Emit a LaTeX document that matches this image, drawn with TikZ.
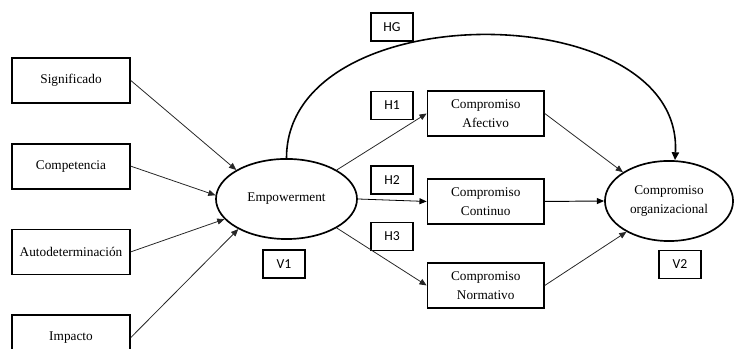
\documentclass[tikz,border=0pt]{standalone}
\usepackage{fontspec}
\setmainfont{Liberation Serif}
\newfontfamily\labelfont{Carlito}
\usetikzlibrary{shapes.geometric, arrows.meta, positioning}

\begin{document}
\begin{tikzpicture}[
    node distance=1.3cm,
    box/.style={rectangle, draw=black, line width=1.6pt, minimum height=1.5cm, minimum width=3.93cm, align=center, font=\fontsize{12.6pt}{17.5pt}\selectfont},
    latent/.style={ellipse, draw=black, line width=1.6pt, minimum height=2.67cm, align=center, inner sep=0pt, font=\fontsize{12.6pt}{17.5pt}\selectfont},
    tag/.style={rectangle, draw=black, line width=1.4pt, minimum height=0.93cm, minimum width=1.4cm, font=\labelfont\fontsize{13pt}{14pt}\selectfont},
    link/.style={-{Triangle[length=2.4mm,width=2mm]}, line width=0.75pt, black!85}
]
    \useasboundingbox (0,0) rectangle (24.5,11.633);

    % Dimensiones de empowerment
    \node[box] (sig) at (2.367,8.95) {Significado};
    \node[box, below=of sig] (comp) {Competencia};
    \node[box, below=of comp] (auto) {Autodeterminación};
    \node[box, below=of auto] (imp) {Impacto};

    % Variables latentes
    \node[latent, minimum width=4.7cm] (emp) at (9.55,5) {Empowerment};
    \node[tag] (v1) at (9.467,2.833) {V1};
    \node[latent, minimum width=4.27cm] (org) at (22.3,4.933) {Compromiso\\organizacional};
    \node[tag] (v2) at (22.667,2.817) {V2};

    % Componentes del compromiso
    \node[box, minimum width=3.88cm] (afe) at (16.19,7.85) {Compromiso\\Afectivo};
    \node[box, minimum width=3.88cm] (cont) at (16.19,4.917) {Compromiso\\Continuo};
    \node[box, minimum width=3.88cm] (norm) at (16.19,2.117) {Compromiso\\Normativo};

    % Hipotesis
    \node[tag] (hg) at (13.067,10.733) {HG};
    \node[tag] (h1) at (13.067,8.117) {H1};
    \node[tag] (h2) at (13.067,5.633) {H2};
    \node[tag] (h3) at (13.067,3.75) {H3};

    % Relaciones
    \draw[link] (sig.east) -- (emp.150);
    \draw[link] (comp.east) -- (emp.177);
    \draw[link] (auto.east) -- (emp.198);
    \draw[link] (imp.east) -- (emp.212);

    \draw[link] (emp.30) -- (afe.west);
    \draw[link, black] (emp.east) -- (cont.west);
    \draw[link] (emp.-30) -- (norm.west);

    \draw[link] (afe.east) -- (org.148);
    \draw[link, black, line width=0.9pt] (cont.east) -- (org.west);
    \draw[link] (norm.east) -- (org.216);

    % Hipotesis general
    \draw[-{Triangle[length=2.6mm,width=2.4mm]}, line width=1.5pt] (emp.north) .. controls +(0,5.5) and +(0.3,5.5) .. ([xshift=0.2cm]org.north);
\end{tikzpicture}
\end{document}
